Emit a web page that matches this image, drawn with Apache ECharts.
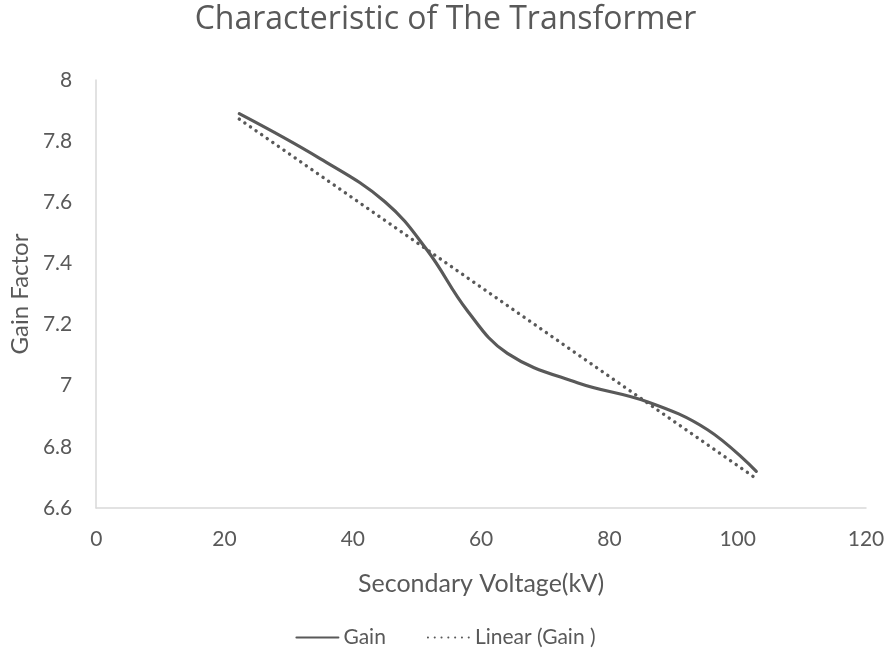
<!DOCTYPE html>
<html>
<head>
<meta charset="utf-8">
<title>Characteristic of The Transformer</title>
<script src="https://cdn.jsdelivr.net/npm/echarts@6/dist/echarts.min.js"></script>
<style>
  html, body { margin: 0; padding: 0; background: #ffffff; }
  #chart { width: 891px; height: 665px; }
</style>
</head>
<body>
<div id="chart"></div>
<script>
// Secondary voltage (kV) and the measured gain factor along the curve
var voltage = [22.3, 34.9, 45.0, 51.6, 57.8, 64.1, 75.0, 86.0, 95.3, 102.9];
var gain    = [7.890, 7.743, 7.602, 7.443, 7.247, 7.106, 7.010, 6.947, 6.856, 6.720];

// End points of the linear trend line fitted to the gain
var trendVoltage = [22.3, 102.9];
var trendGain    = [7.872, 6.696];

// Axis ranges and tick steps
var xRange = [0, 120], xStep = 20;
var yRange = [6.6, 8], yStep = 0.2;

var seriesNames = ['Gain', 'Linear (Gain )'];

function pairs(xs, ys) {
  return xs.map(function (x, i) { return [x, ys[i]]; });
}

var textColor = '#595959';
var axisColor = '#d9d9d9';
var fontFamily = 'Lato, "Open Sans", sans-serif';
var titleFont = '"Open Sans", Lato, sans-serif';

var chart = echarts.init(document.getElementById('chart'), null, { renderer: 'canvas' });
chart.setOption({
  animation: false,
  backgroundColor: '#ffffff',
  title: {
    text: 'Characteristic of The Transformer',
    left: 'center',
    top: -1,
    textStyle: { color: textColor, fontSize: 32, fontWeight: 'normal', fontFamily: titleFont }
  },
  legend: {
    bottom: 12,
    left: 'center',
    itemWidth: 42,
    itemHeight: 12,
    itemGap: 41,
    itemStyle: { opacity: 0 },
    textStyle: { color: textColor, fontSize: 21, fontFamily: fontFamily },
    data: seriesNames
  },
  grid: { left: 96, right: 25, top: 80, bottom: 157, containLabel: false },
  xAxis: {
    type: 'value',
    min: xRange[0], max: xRange[1], interval: xStep,
    name: 'Secondary Voltage(kV)',
    nameLocation: 'middle',
    nameGap: 63,
    nameTextStyle: { color: textColor, fontSize: 25, fontFamily: fontFamily },
    axisLine: { show: true, lineStyle: { color: axisColor, width: 1.5 } },
    axisTick: { show: false },
    splitLine: { show: false },
    axisLabel: { color: textColor, fontSize: 21, fontFamily: fontFamily, margin: 21 }
  },
  yAxis: {
    type: 'value',
    min: yRange[0], max: yRange[1], interval: yStep,
    name: 'Gain Factor',
    nameLocation: 'middle',
    nameGap: 61,
    nameRotate: 90,
    nameTextStyle: { color: textColor, fontSize: 24, fontFamily: fontFamily },
    axisLine: { show: true, lineStyle: { color: axisColor, width: 1.5 } },
    axisTick: { show: false },
    splitLine: { show: false },
    axisLabel: { color: textColor, fontSize: 21, fontFamily: fontFamily, margin: 24 }
  },
  series: [
    {
      name: seriesNames[0],
      type: 'line',
      data: pairs(voltage, gain),
      smooth: 0.4,
      symbol: 'none',
      lineStyle: { color: '#595959', width: 3.2, cap: 'round' },
      itemStyle: { color: '#595959' }
    },
    {
      name: seriesNames[1],
      type: 'line',
      data: pairs(trendVoltage, trendGain),
      symbol: 'none',
      lineStyle: { color: '#595959', width: 3.4, type: [0.1, 6.7], cap: 'round' },
      itemStyle: { color: '#595959' }
    }
  ]
});
</script>
</body>
</html>
